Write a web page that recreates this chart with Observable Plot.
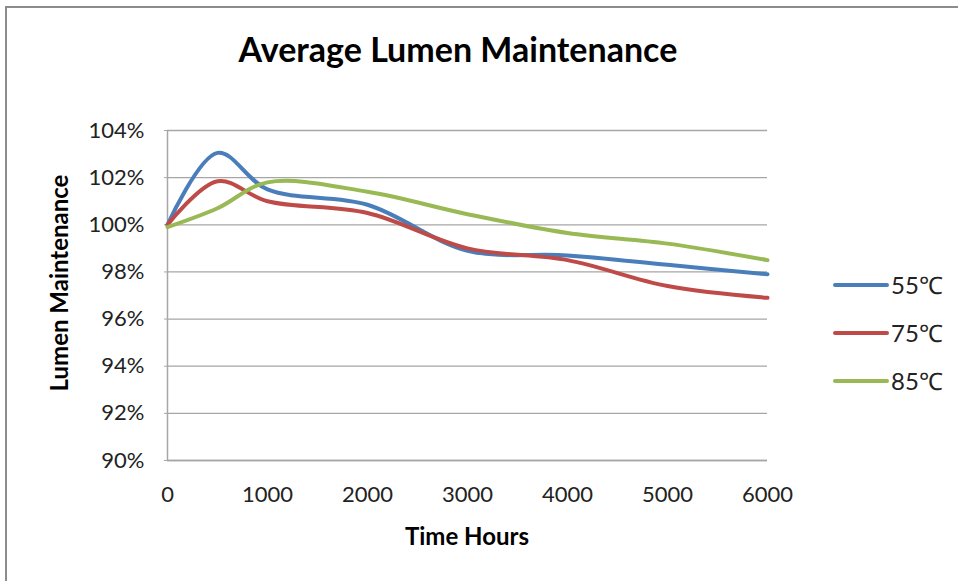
<!DOCTYPE html>
<html>
<head>
<meta charset="utf-8">
<script src="https://cdn.jsdelivr.net/npm/d3@7"></script>
<script src="https://cdn.jsdelivr.net/npm/@observablehq/plot@0.6"></script>
<style>
  html, body { margin: 0; padding: 0; background: #fff; }
  #wrap { position: relative; width: 958px; height: 581px; overflow: hidden; font-family: Lato, "Open Sans", sans-serif; }
  #border { position: absolute; left: 5px; top: 6px; width: 960px; height: 580px; border: 2px solid #8c8c8c; box-sizing: border-box; }
  #title { position: absolute; left: 0; width: 916px; top: 28px; text-align: center; font-weight: bold; font-size: 34px; color: #000; }
  #ytitle { position: absolute; left: 58px; top: 283px; transform: translate(-50%, -50%) rotate(-90deg); font-weight: bold; font-size: 24px; white-space: nowrap; }
  #xtitle { position: absolute; left: 467px; top: 535px; transform: translate(-50%, -50%); font-weight: bold; font-size: 24px; white-space: nowrap; }
  .leg { position: absolute; left: 833px; display: flex; align-items: center; font-size: 24px; color: #222; }
  .leg span.sw { display: inline-block; width: 56px; height: 4px; border-radius: 2px; margin-right: 2px; }
  svg { position: absolute; left: 0; top: 0; }
</style>
</head>
<body>
<div id="wrap">
  <div id="border"></div>
  <div id="chart"></div>
  <div id="title">Average Lumen Maintenance</div>
  <div id="ytitle">Lumen Maintenance</div>
  <div id="xtitle">Time Hours</div>
  <div id="legend"></div>
</div>
<script>
const hours = [0, 500, 1000, 2000, 3000, 4000, 5000, 6000];
const series = ["55℃", "75℃", "85℃"];
const s55 = [100.0, 103.05, 101.5, 100.85, 98.9, 98.7, 98.3, 97.9];
const s75 = [100.0, 101.85, 101.0, 100.5, 99.0, 98.5, 97.4, 96.9];
const s85 = [99.9, 100.7, 101.8, 101.4, 100.45, 99.65, 99.2, 98.5];
const colors = ["#4a7ebb", "#be4b48", "#98b954"];
const xTicks = [0, 1000, 2000, 3000, 4000, 5000, 6000];
const yTicks = [90, 92, 94, 96, 98, 100, 102, 104];

const values = [s55, s75, s85];
const data = [];
series.forEach((s, i) => hours.forEach((h, j) => data.push({series: s, hours: h, value: values[i][j]})));

const chart = Plot.plot({
  width: 958,
  height: 581,
  marginLeft: 167,
  marginRight: 191,
  marginTop: 130,
  marginBottom: 121,
  style: { fontFamily: "Lato, 'Open Sans', sans-serif", fontSize: "22px", color: "#222", background: "transparent" },
  x: { domain: [0, 6000] },
  y: { domain: [90, 104] },
  color: { domain: series, range: colors },
  marks: [
    Plot.gridY(yTicks, { stroke: "#a6a6a6", strokeOpacity: 1, strokeWidth: 1.3 }),
    Plot.ruleX([0], { stroke: "#a6a6a6", strokeWidth: 1.5 }),
    Plot.ruleY([90], { stroke: "#a6a6a6", strokeWidth: 1.5 }),
    Plot.axisY(yTicks, { tickFormat: d => d + "%", tickSize: 3, stroke: "#a6a6a6", tickPadding: 20, label: null, fill: "#222" }),
    Plot.axisX(xTicks, { tickFormat: d => String(d), tickSize: 0, tickPadding: 26, label: null, fill: "#222" }),
    Plot.line(data, { x: "hours", y: "value", stroke: "series", z: "series", strokeWidth: 4, curve: "catmull-rom" })
  ]
});
document.getElementById("chart").appendChild(chart);

const legend = document.getElementById("legend");
const legTops = [283, 331, 379];
series.forEach((s, i) => {
  const d = document.createElement("div");
  d.className = "leg";
  d.style.top = (legTops[i] - 15) + "px";
  d.innerHTML = `<span class="sw" style="background:${colors[i]}"></span><span>${s}</span>`;
  legend.appendChild(d);
});
</script>
</body>
</html>
